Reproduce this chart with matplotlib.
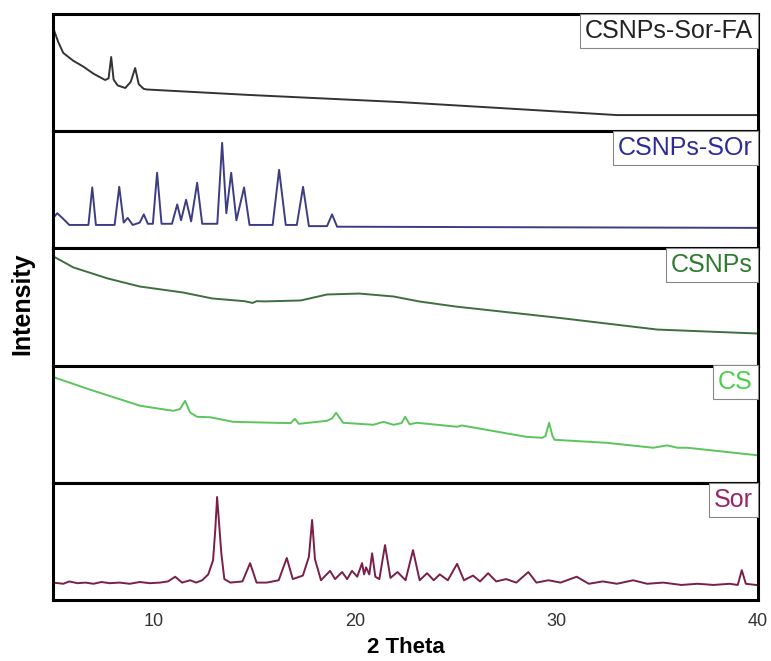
import matplotlib.pyplot as plt

plt.rcParams['font.family'] = ['Liberation Sans', 'DejaVu Sans']

# --- data: vertices (2 theta, relative intensity in panel) ---
fa_x = [5.0, 5.25, 5.5, 6.0, 6.5, 7.0, 7.58, 7.75, 7.88, 8.0, 8.2, 8.58, 8.85, 9.07, 9.25, 9.5,
        9.67, 14.8, 22.2, 27.2, 33.0, 39.85, 40.0]
fa_y = [0.88, 0.76, 0.667, 0.60, 0.55, 0.49, 0.436, 0.45, 0.632, 0.44, 0.39, 0.368, 0.42, 0.538, 0.40, 0.36,
        0.355, 0.308, 0.248, 0.197, 0.137, 0.137, 0.137]

nps_sor_x = [5.0, 5.2, 5.45, 5.8, 6.75, 6.94, 7.12, 8.05, 8.28, 8.5, 8.7, 8.95, 9.3, 9.5,
             9.7, 9.95, 10.16, 10.38, 10.9, 11.16, 11.35, 11.6, 11.85, 12.15, 12.4, 13.15,
             13.39, 13.6, 13.84, 14.1, 14.48, 14.75, 15.9, 16.22, 16.55, 17.1, 17.41, 17.7,
             18.6, 18.85, 19.1, 40.0]
nps_sor_y = [0.26, 0.30, 0.26, 0.20, 0.20, 0.52, 0.20, 0.20, 0.525, 0.22, 0.26, 0.20, 0.22, 0.29,
             0.21, 0.21, 0.645, 0.21, 0.21, 0.375, 0.24, 0.415, 0.23, 0.56, 0.21, 0.21,
             0.90, 0.30, 0.645, 0.24, 0.52, 0.20, 0.20, 0.67, 0.20, 0.20, 0.525, 0.19,
             0.19, 0.29, 0.185, 0.175]

nps_x = [5.0, 5.1, 6.0, 7.7, 9.3, 11.45, 12.9, 14.5, 14.9, 15.1, 15.5, 17.3, 18.6, 20.2,
         21.9, 23.2, 25.0, 30.0, 35.0, 40.0]
nps_y = [0.93, 0.923, 0.838, 0.744, 0.675, 0.624, 0.573, 0.55, 0.535, 0.55, 0.548, 0.556, 0.607, 0.615,
         0.59, 0.547, 0.504, 0.41, 0.308, 0.274]

cs_x = [5.0, 5.1, 6.84, 9.32, 10.96, 11.3, 11.55, 11.8, 12.15, 12.8, 13.94, 15.92, 16.8, 17.0,
        17.2, 18.6, 18.85, 19.05, 19.4, 20.9, 21.4, 21.9, 22.3, 22.48, 22.7, 23.07, 25.06, 25.3,
        28.5, 29.3, 29.45, 29.63, 29.8, 29.9, 32.5, 34.8, 35.5, 36.0, 36.5, 39.75, 40.0]
cs_y = [0.91, 0.897, 0.795, 0.658, 0.615, 0.63, 0.70, 0.60, 0.564, 0.56, 0.521, 0.513, 0.51, 0.547,
        0.504, 0.53, 0.55, 0.598, 0.513, 0.496, 0.521, 0.496, 0.51, 0.564, 0.50, 0.513, 0.479, 0.49,
        0.393, 0.385, 0.40, 0.513, 0.40, 0.368, 0.342, 0.30, 0.32, 0.30, 0.30, 0.24, 0.235]

sor_x = [5.0, 5.5, 5.8, 6.2, 6.6, 7.0, 7.4, 7.8, 8.3, 8.8, 9.3, 9.8, 10.3, 10.7, 11.06, 11.4,
         11.8, 12.1, 12.4, 12.7, 12.94, 13.05, 13.14, 13.22, 13.35, 13.5, 13.8, 14.4, 14.78, 15.1,
         15.6, 16.2, 16.6, 16.9, 17.4, 17.7, 17.86, 18.0, 18.3, 18.75, 19.0, 19.35, 19.6, 19.84,
         20.1, 20.34, 20.44, 20.54, 20.7, 20.84, 21.0, 21.2, 21.48, 21.75, 22.1, 22.5, 22.87, 23.2,
         23.57, 23.9, 24.2, 24.6, 25.06, 25.4, 25.85, 26.2, 26.6, 27.0, 27.5, 28.0, 28.6, 29.0,
         29.6, 30.2, 31.0, 31.6, 32.3, 33.0, 33.8, 34.5, 35.3, 36.2, 37.0, 37.8, 38.6, 39.0,
         39.2, 39.4, 40.0]
sor_y = [0.15, 0.14, 0.16, 0.145, 0.15, 0.14, 0.155, 0.145, 0.15, 0.14, 0.155, 0.145, 0.15, 0.16, 0.20, 0.15,
         0.17, 0.15, 0.17, 0.22, 0.34, 0.60, 0.88, 0.70, 0.40, 0.18, 0.15, 0.16, 0.316, 0.15,
         0.15, 0.17, 0.36, 0.18, 0.21, 0.37, 0.684, 0.35, 0.17, 0.25, 0.18, 0.24, 0.18, 0.25,
         0.20, 0.316, 0.22, 0.28, 0.22, 0.40, 0.20, 0.18, 0.47, 0.19, 0.24, 0.17, 0.427, 0.17,
         0.23, 0.17, 0.22, 0.17, 0.31, 0.17, 0.21, 0.16, 0.23, 0.16, 0.18, 0.15, 0.24, 0.15,
         0.17, 0.15, 0.20, 0.14, 0.16, 0.14, 0.17, 0.14, 0.15, 0.13, 0.14, 0.13, 0.14, 0.13,
         0.256, 0.14, 0.128]

labels = ['CSNPs-Sor-FA', 'CSNPs-SOr', 'CSNPs', 'CS', 'Sor']
series = [(fa_x, fa_y), (nps_sor_x, nps_sor_y), (nps_x, nps_y), (cs_x, cs_y), (sor_x, sor_y)]
line_colors = ['#333333', '#3d3d85', '#3f6e3f', '#5cc45c', '#7a1f4a']
text_colors = ['#222222', '#2b2b9a', '#2e7a2e', '#4ccd4c', '#9b2466']

fig, axes = plt.subplots(5, 1, sharex=True, figsize=(7.71, 6.61), dpi=100)
fig.subplots_adjust(left=0.069, right=0.983, top=0.979, bottom=0.092, hspace=0)

for ax, (x, y), lab, lc, tc in zip(axes, series, labels, line_colors, text_colors):
    ax.plot(x, y, color=lc, lw=1.4)
    ax.set_xlim(5, 40)
    ax.set_ylim(0, 1)
    ax.set_yticks([])
    for sp in ax.spines.values():
        sp.set_linewidth(2.2)
    ax.tick_params(axis='x', length=0, labelsize=13, labelcolor='#333333', pad=9)
    ax.text(0.993, 0.96, lab, transform=ax.transAxes, ha='right', va='top',
            fontsize=18, color=tc,
            bbox=dict(boxstyle='square,pad=0.2', fc='white', ec='#888888', lw=0.8))

axes[-1].set_xticks([10, 20, 30, 40])
axes[-1].set_xlabel('2 Theta', fontsize=16, fontweight='bold', labelpad=5)
fig.text(0.029, 0.54, 'Intensity', rotation=90, ha='center', va='center',
         fontsize=18, fontweight='bold')

plt.savefig('out.png', dpi=100)
